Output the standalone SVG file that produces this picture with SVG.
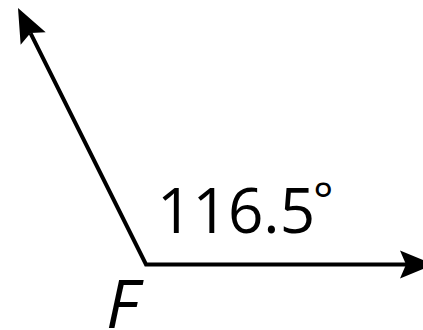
<svg xmlns="http://www.w3.org/2000/svg" width="423" height="330" viewBox="0 0 423 330">
  <style>
    .ray { fill: none; stroke: #000; stroke-width: 4; stroke-linejoin: miter; }
    .lbl { font-family: "Open Sans", "Noto Sans", sans-serif; fill: #000; }
  </style>
  <defs>
    <marker id="arrow" markerUnits="userSpaceOnUse" markerWidth="40" markerHeight="32" viewBox="0 -16 40 32" refX="6" refY="0" orient="auto-start-reverse" overflow="visible">
      <path d="M0,-14 L34,0 L0,14 L6,0 Z" fill="#000"/>
    </marker>
  </defs>
  <rect width="423" height="330" fill="#fff"/>
  <g id="connectors">
    <path class="ray" d="M30.5,33.1 L146,264.5 L406,264.5" marker-start="url(#arrow)" marker-end="url(#arrow)"/>
  </g>
  <g id="angle-label">
    <text class="lbl" x="157" y="233" font-size="62">116.5<tspan font-size="48" dx="-2" dy="-16">°</tspan></text>
  </g>
  <g id="vertex-F">
    <text class="lbl" x="106" y="328" font-size="68" font-style="italic">F</text>
  </g>
</svg>
